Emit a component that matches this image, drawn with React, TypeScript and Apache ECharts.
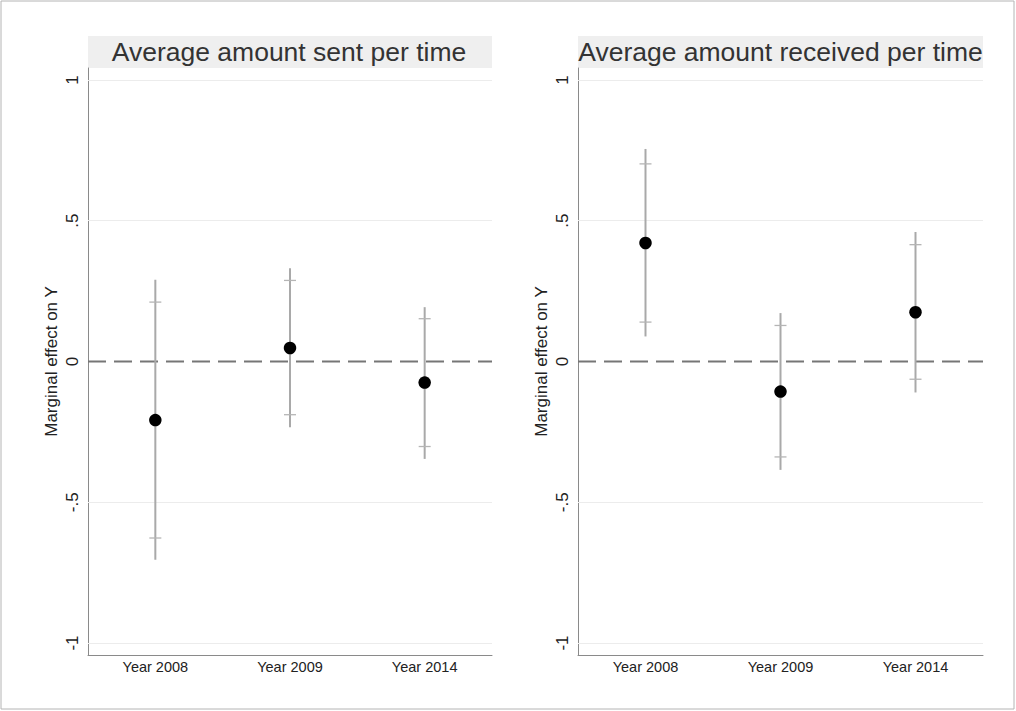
import React, { useEffect, useRef } from "react";
import * as echarts from "echarts";

const categories = ["Year 2008", "Year 2009", "Year 2014"];

// Left panel: Average amount sent per time
const sentEst = [-0.208, 0.048, -0.075];
const sentLo95 = [-0.704, -0.234, -0.346];
const sentHi95 = [0.29, 0.331, 0.193];
const sentLo90 = [-0.627, -0.189, -0.302];
const sentHi90 = [0.211, 0.288, 0.152];

// Right panel: Average amount received per time
const recvEst = [0.421, -0.107, 0.175];
const recvLo95 = [0.089, -0.385, -0.11];
const recvHi95 = [0.755, 0.172, 0.46];
const recvLo90 = [0.14, -0.339, -0.063];
const recvHi90 = [0.702, 0.128, 0.415];

const yTickValues = [-1, -0.5, 0, 0.5, 1];
const yTickLabels = ["-1", "-.5", "0", ".5", "1"];
const referenceValue = 0;

const titles = ["Average amount sent per time", "Average amount received per time"];
const yName = "Marginal effect on Y";

const FONT = "'Liberation Sans', Arial, Helvetica, sans-serif";

export default function App() {
  const ref = useRef<HTMLDivElement>(null);

  useEffect(() => {
    if (!ref.current) return;
    const chart = echarts.init(ref.current, null, { renderer: "svg" });

    const panels = [
      { est: sentEst, lo95: sentLo95, hi95: sentHi95, lo90: sentLo90, hi90: sentHi90 },
      { est: recvEst, lo95: recvLo95, hi95: recvHi95, lo90: recvLo90, hi90: recvHi90 },
    ];

    const grids = [
      { left: 88, right: 524, top: 68, bottom: 56 },
      { left: 578, right: 33, top: 68, bottom: 56 },
    ];

    const renderBar = (params: any, api: any) => {
      const i = api.value(0);
      const lo95 = api.coord([i, api.value(1)]);
      const hi95 = api.coord([i, api.value(2)]);
      const lo90 = api.coord([i, api.value(3)]);
      const hi90 = api.coord([i, api.value(4)]);
      const cw = 6;
      return {
        type: "group",
        children: [
          {
            type: "line",
            shape: { x1: lo95[0], y1: lo95[1], x2: hi95[0], y2: hi95[1] },
            style: { stroke: "#a9a9a9", lineWidth: 2 },
          },
          {
            type: "line",
            shape: { x1: lo90[0] - cw, y1: lo90[1], x2: lo90[0] + cw, y2: lo90[1] },
            style: { stroke: "#b5b5b5", lineWidth: 1.3 },
          },
          {
            type: "line",
            shape: { x1: hi90[0] - cw, y1: hi90[1], x2: hi90[0] + cw, y2: hi90[1] },
            style: { stroke: "#b5b5b5", lineWidth: 1.3 },
          },
        ],
      };
    };

    const renderRefLine = (params: any, api: any) => {
      const y = api.coord([0, api.value(1)])[1];
      const cs = params.coordSys;
      return {
        type: "line",
        shape: { x1: cs.x, y1: y, x2: cs.x + cs.width, y2: y },
        style: { stroke: "#767676", lineWidth: 2, lineDash: [18, 8] },
      };
    };

    const series: any[] = [];
    panels.forEach((p, k) => {
      series.push({
        type: "custom",
        xAxisIndex: k,
        yAxisIndex: k,
        renderItem: renderRefLine,
        encode: { x: 0, y: 1 },
        data: [[0, referenceValue]],
        silent: true,
        z: 2,
        markLine: {
          silent: true,
          symbol: "none",
          label: { show: false },
          lineStyle: { color: "#ececec", width: 1, type: "solid" },
          data: yTickValues.filter((v) => v !== referenceValue).map((v) => ({ yAxis: v })),
          z: 1,
        },
      });
      series.push({
        type: "custom",
        xAxisIndex: k,
        yAxisIndex: k,
        renderItem: renderBar,
        encode: { x: 0, y: [1, 2] },
        data: categories.map((_, i) => [i, p.lo95[i], p.hi95[i], p.lo90[i], p.hi90[i]]),
        silent: true,
        z: 3,
      });
      series.push({
        type: "scatter",
        xAxisIndex: k,
        yAxisIndex: k,
        data: categories.map((_, i) => [i, p.est[i]]),
        symbol: "circle",
        symbolSize: 12.5,
        itemStyle: { color: "#000", opacity: 1 },
        silent: true,
        z: 5,
      });
    });

    const option: any = {
      animation: false,
      backgroundColor: "#fff",
      textStyle: { fontFamily: FONT },
      title: titles.map((t, k) => ({
        text: t,
        left: k === 0 ? 289 : 780.5,
        top: 52,
        padding: 0,
        textAlign: "center",
        textVerticalAlign: "middle",
        textStyle: { fontFamily: FONT, fontSize: 26.5, fontWeight: "normal", color: "#333" },
      })),
      graphic: [
        {
          type: "rect",
          shape: { x: 1, y: 1, width: 1013, height: 708 },
          style: { fill: "none", stroke: "#b4b4b4", lineWidth: 1 },
          z: -10,
        },
        {
          type: "rect",
          shape: { x: 88, y: 36, width: 404, height: 32 },
          style: { fill: "#efefef" },
          z: -5,
        },
        {
          type: "rect",
          shape: { x: 578, y: 36, width: 405, height: 32 },
          style: { fill: "#efefef" },
          z: -5,
        },
      ],
      grid: grids,
      xAxis: grids.map((_, k) => ({
        type: "category",
        gridIndex: k,
        position: "bottom",
        data: categories,
        boundaryGap: true,
        axisLine: { show: true, onZero: false, lineStyle: { color: "#8a8a8a", width: 1 } },
        axisTick: { show: false },
        splitLine: { show: false },
        axisLabel: { color: "#222", fontSize: 14.5, margin: 4, fontFamily: FONT },
      })),
      yAxis: grids.map((_, k) => ({
        type: "value",
        gridIndex: k,
        min: -1.0426,
        max: 1.0426,
        name: yName,
        nameLocation: "middle",
        nameGap: 28,
        nameTextStyle: { color: "#222", fontSize: 17, fontFamily: FONT },
        axisLine: { show: true, onZero: false, lineStyle: { color: "#8a8a8a", width: 1 } },
        axisTick: { show: false },
        splitLine: { show: false },
        axisLabel: {
          customValues: yTickValues,
          rotate: 90,
          margin: 7,
          color: "#222",
          fontSize: 17,
          fontFamily: FONT,
          formatter: (v: number) => {
            const idx = yTickValues.findIndex((t) => Math.abs(t - v) < 1e-9);
            return idx >= 0 ? yTickLabels[idx] : "";
          },
        },
      })),
      series,
    };

    chart.setOption(option);
    return () => chart.dispose();
  }, []);

  return (
    <div
      ref={ref}
      style={{ position: "fixed", left: 0, top: 0, width: 1016, height: 711, background: "#fff" }}
    />
  );
}
